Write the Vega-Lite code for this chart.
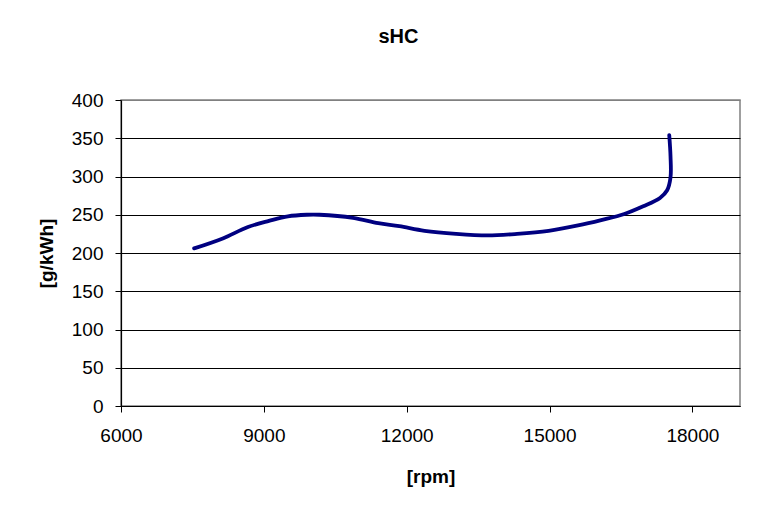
{
  "$schema": "https://vega.github.io/schema/vega-lite/v6.json",
  "autosize": "none",
  "width": 619,
  "height": 306,
  "padding": {"left": 121, "top": 100, "right": 39, "bottom": 103},
  "background": "#ffffff",
  "title": {
    "text": "sHC",
    "anchor": "middle",
    "dx": -32,
    "offset": 44,
    "font": "Liberation Sans",
    "fontSize": 20,
    "fontWeight": "bold",
    "color": "#000000"
  },
  "config": {
    "view": {"stroke": "#808080", "strokeWidth": 1.5},
    "axis": {
      "labelFont": "Liberation Sans",
      "titleFont": "Liberation Sans",
      "labelColor": "#000000",
      "titleColor": "#000000",
      "domainColor": "#000000",
      "tickColor": "#000000"
    }
  },
  "data": {
    "values": [
      {"i": 1, "rpm": 7536, "shc": 206},
      {"i": 2, "rpm": 8137, "shc": 219},
      {"i": 3, "rpm": 8667, "shc": 234},
      {"i": 4, "rpm": 9108, "shc": 242},
      {"i": 5, "rpm": 9506, "shc": 248},
      {"i": 6, "rpm": 9903, "shc": 250},
      {"i": 7, "rpm": 10168, "shc": 250},
      {"i": 8, "rpm": 10874, "shc": 246},
      {"i": 9, "rpm": 11404, "shc": 239},
      {"i": 10, "rpm": 11845, "shc": 235},
      {"i": 11, "rpm": 12375, "shc": 229},
      {"i": 12, "rpm": 13037, "shc": 225},
      {"i": 13, "rpm": 13700, "shc": 223},
      {"i": 14, "rpm": 14318, "shc": 225},
      {"i": 15, "rpm": 14980, "shc": 229},
      {"i": 16, "rpm": 15598, "shc": 236},
      {"i": 17, "rpm": 16084, "shc": 243},
      {"i": 18, "rpm": 16570, "shc": 251},
      {"i": 19, "rpm": 16967, "shc": 261},
      {"i": 20, "rpm": 17320, "shc": 272},
      {"i": 21, "rpm": 17470, "shc": 282},
      {"i": 22, "rpm": 17541, "shc": 299},
      {"i": 23, "rpm": 17541, "shc": 326},
      {"i": 24, "rpm": 17514, "shc": 354}
    ]
  },
  "mark": {
    "type": "line",
    "color": "#000080",
    "strokeWidth": 3.8,
    "strokeCap": "round",
    "strokeJoin": "round",
    "interpolate": "catmull-rom"
  },
  "encoding": {
    "order": {"field": "i", "type": "quantitative"},
    "x": {
      "field": "rpm",
      "type": "quantitative",
      "scale": {"domain": [6000, 19000], "nice": false, "zero": false},
      "axis": {
        "title": "[rpm]",
        "values": [6000, 9000, 12000, 15000, 18000],
        "format": "d",
        "grid": false,
        "tickSize": 6,
        "labelPadding": 14,
        "labelFontSize": 19,
        "titleFontSize": 19,
        "titleFontWeight": "bold",
        "titlePadding": 22,
        "domainWidth": 1.2,
        "labelFlush": false
      }
    },
    "y": {
      "field": "shc",
      "type": "quantitative",
      "scale": {"domain": [0, 400], "nice": false},
      "axis": {
        "title": "[g/kWh]",
        "values": [0, 50, 100, 150, 200, 250, 300, 350, 400],
        "format": "d",
        "grid": true,
        "gridColor": {"condition": {"test": "datum.value === 400", "value": "#808080"}, "value": "#000000"},
        "gridWidth": 1,
        "gridOpacity": 1,
        "tickSize": 6,
        "labelPadding": 12,
        "labelFontSize": 19,
        "titleFontSize": 19,
        "titleFontWeight": "bold",
        "titlePadding": 15,
        "domainWidth": 1.2,
        "labelFlush": false
      }
    }
  }
}
